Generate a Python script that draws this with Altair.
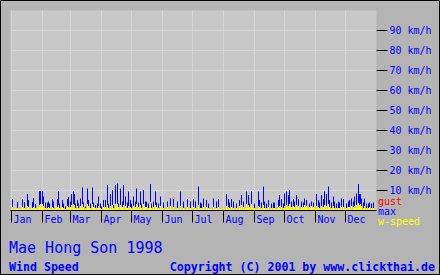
import altair as alt
import pandas as pd

months = ["Jan", "Feb", "Mar", "Apr", "May", "Jun", "Jul", "Aug", "Sep", "Oct", "Nov", "Dec"]
month_start_day = [0, 31, 59, 90, 120, 151, 181, 212, 243, 273, 304, 334]
y_ticks = [10, 20, 30, 40, 50, 60, 70, 80, 90]

# daily maximum wind speed (km/h)
max_jan = [0,5.5,0,0,0,0,4,0,0,0,0,5.5,0,4,0,0,8,5,0,0,0,4,6,0,3,0,0,0,9.5,9.5,0]
max_feb = [9.5,6.7,0,3.8,0,3.8,4.2,3.3,0,0,5.5,4.2,0,0,0,5.5,9.5,3.3,0,0,5,3.3,0,1.7,0,5.5,6.5,0]
max_mar = [4.2,8,0,9.5,8,3.3,0,5,3.3,0,5.8,0,11.3,3.8,0,1.7,0,10.8,5,0,3.3,0,11.3,3.8,0,2.5,0,3.3,6.7,0,3.3]
max_apr = [1.7,0,5,0,5,0,12.5,3.3,0,8,0,10,2.5,0,12.5,0,13.3,3.3,0,10.8,0,4.2,12.5,0,6.7,0,3.8,9.2,0,5]
max_may = [3.3,0,6.7,0,4.2,10.8,0,3.8,0,9.2,3.3,0,10,0,4.2,4.2,0,3.3,0,13,3.3,0,4.2,0,9.2,3.8,0,3.3,0,6.7,0]
max_jun = [0,3.8,0,0,0,4.2,0,0,5.8,0,0,5.5,0,0,0,4.2,0,0,9.2,0,0,4.2,0,0,0,5.5,0,0,4.2,0]
max_jul = [0,5.5,0,4.2,0,0,11.7,0,3.8,3.3,0,5.8,0,0,5,0,3.3,0,0,0,0,5.8,0,0,4.2,0,5.5,0,0,0,0]
max_aug = [0,0,0,8,0,5.5,3.8,0,5.5,0,4.2,0,0,3.3,0,0,5,0,7.5,0,4.2,0,0,9.2,0,7.5,3.3,0,9.5,0,0]
max_sep = [3.3,0,0,0,9.2,5,0,3.8,0,11.7,4.2,0,3.3,0,5,0,0,3.3,0,3.8,3.8,0,0,0,5,7.5,0,5.5,0,3.3]
max_oct = [8.3,0,9.2,0,7.5,10,0,4.2,0,5.5,4.2,0,7.5,0,5.5,0,0,4.2,0,3.8,5.8,0,5,0,0,3.3,0,4.2,0,3.8,0]
max_nov = [0,8,0,5,3.8,0,7.5,0,5.5,9.2,0,8,0,11.7,5,0,3.8,0,6.7,4.2,0,3.3,0,4.2,3.8,0,5.8,0,5.5,0]
max_dec = [0,3.3,0,4.2,5,0,5.8,0,4.2,6.7,0,8.3,0,13,8,8,5.8,0,3.8,5.8,0,3.3,0,3.3,3.8,0,3.3,0,3.8,0,0]

# daily mean wind speed (km/h)
ws_jan = [0.5,1.5,0.5,0.5,1,0.5,1,0.5,0.5,0.5,1,1.5,0.5,1,0.5,0.5,2,1.5,0.5,0.5,1,1,1.5,0.5,1,0.5,0.5,1,2.5,3,1.5]
ws_feb = [3,2,1,1,0.5,1,1.5,1,0.5,0.5,1.5,1,0.5,0.5,1,1.5,2.5,1,0.5,1,1.5,1,0.5,0.5,1,2,1.5,0.5]
ws_mar = [1.5,2.5,1,3,2.5,1,0.5,2,1,0.5,2,1,3,1.5,0.5,1,0.5,3,2,1,1,0.5,3,1.5,1,1,0.5,1,2,1,1]
ws_apr = [0.5,0.5,1.5,1,1.5,0.5,2.5,1,0.5,2,0.5,2.5,1,0.5,3,1,3,1.5,0.5,2.5,1,1.5,2.5,0.5,2,1,1,2,0.5,1.5]
ws_may = [1,0.5,2,1,1.5,3,1,1.5,0.5,2.5,1,0.5,3,1,1.5,1.5,0.5,1,1,4,1,0.5,1.5,0.5,2.5,1.5,0.5,1,0.5,2,1]
ws_jun = [0.5,1,0.5,0.5,0.5,1.5,0.5,0.5,2,0.5,0.5,1.5,0.5,0.5,0.5,1,0.5,0.5,2,0.5,0.5,1,0.5,0.5,0.5,1.5,0.5,0.5,1,0.5]
ws_jul = [0.5,1.5,0.5,1,0.5,0.5,2.5,0.5,1,1,0.5,1.5,0.5,0.5,1.5,0.5,1,0.5,0.5,0.5,0.5,1.5,0.5,0.5,1,0.5,1.5,0.5,0.5,0.5,0.5]
ws_aug = [0.5,0.5,0.5,2,0.5,1.5,1,0.5,1.5,0.5,1,0.5,0.5,1,0.5,0.5,2,1,2.5,0.5,1.5,0.5,1,3,1,2.5,1.5,1,3,1,0.5]
ws_sep = [1,0.5,0.5,0.5,2,1.5,0.5,1,0.5,2.5,1,0.5,1,0.5,1.5,0.5,0.5,1,0.5,1,1,0.5,0.5,0.5,1.5,2,0.5,1.5,0.5,1]
ws_oct = [2,1,2.5,1,2,3,1,1.5,0.5,2,1.5,0.5,2.5,1,2,0.5,0.5,1.5,1,1.5,2.5,1,2,1,0.5,1.5,1,2,1,1.5,1]
ws_nov = [0.5,2,0.5,1.5,1,0.5,2,0.5,1.5,2.5,0.5,2,0.5,3,1.5,0.5,1,0.5,2,1,0.5,1,0.5,1,1,0.5,1.5,0.5,1.5,0.5]
ws_dec = [0.5,1,0.5,1.5,1.5,0.5,2,0.5,1.5,2,1,2.5,1,3.5,2.5,3,2,0.5,1,2,0.5,1,0.5,1,1.5,0.5,1,0.5,1,0.5,0.5]

title_text = "Mae Hong Son 1998"
subtitle_text = "Wind Speed"
copyright_text = "Copyright (C) 2001 by www.clickthai.de"
legend_labels = ["gust", "max", "w-speed"]
legend_colors = ["#ff0000", "#0000ff", "#ffff00"]

max_all = (max_jan + max_feb + max_mar + max_apr + max_may + max_jun +
           max_jul + max_aug + max_sep + max_oct + max_nov + max_dec)
ws_all = (ws_jan + ws_feb + ws_mar + ws_apr + ws_may + ws_jun +
          ws_jul + ws_aug + ws_sep + ws_oct + ws_nov + ws_dec)
n = min(len(max_all), len(ws_all))
df = pd.DataFrame({
    "day": list(range(n)),
    "day_end": [d + 1 for d in range(n)],
    "max": max_all[:n],
    "wspeed": ws_all[:n],
})

FONT = "DejaVu Sans Mono"
BLUE = "#0000ff"
GRID = "#d6d6d6"

month_expr = "[" + ",".join("'%s'" % m for m in months) + "][indexof([" + \
    ",".join(str(d) for d in month_start_day) + "], datum.value)]"

x_scale = alt.Scale(domain=[-1, 365], nice=False, zero=False)
y_scale = alt.Scale(domain=[0, 100], nice=False)

x_axis = alt.Axis(
    values=month_start_day, labelExpr=month_expr, title=None,
    grid=True, gridColor=GRID, gridWidth=1,
    ticks=True, tickColor="#000000", tickSize=12, tickWidth=1,
    domain=True, domainColor="#000000", domainWidth=1,
    labelFont=FONT, labelFontSize=10, labelColor=BLUE,
    labelAlign="left", labelBaseline="middle", labelPadding=-3,
    labelOffset=2, labelFlush=False, labelOverlap=False, labelBound=False,
)
y_axis = alt.Axis(
    orient="right", values=y_ticks, labelExpr="datum.value + ' km/h'", title=None,
    grid=True, gridColor=GRID, gridWidth=1,
    ticks=True, tickColor="#000000", tickSize=11, tickWidth=1,
    domain=False, labelFont=FONT, labelFontSize=10, labelColor=BLUE,
    labelAlign="left", labelBaseline="middle", labelPadding=2,
)

base = alt.Chart(df)
max_bars = base.mark_rect(color=BLUE, strokeWidth=0).encode(
    x=alt.X("day:Q", scale=x_scale, axis=x_axis),
    x2="day_end:Q",
    y=alt.Y("max:Q", scale=y_scale, axis=y_axis),
    y2=alt.datum(0),
)
ws_bars = base.mark_rect(color="#ffff00", strokeWidth=0).encode(
    x=alt.X("day:Q", scale=x_scale, axis=x_axis),
    x2="day_end:Q",
    y=alt.Y("wspeed:Q", scale=y_scale, axis=y_axis),
    y2=alt.datum(0),
)

def text_layer(txt, x, y, color, size, weight="normal", align="left"):
    return alt.Chart(pd.DataFrame({"t": [txt]})).mark_text(
        font=FONT, fontSize=size, fontWeight=weight, color=color,
        align=align, baseline="alphabetic",
    ).encode(x=alt.value(x), y=alt.value(y), text="t:N")

texts = [
    text_layer(title_text, -1, 243, BLUE, 15),
    text_layer(subtitle_text, -1, 261, BLUE, 11.6, "bold"),
    text_layer(copyright_text, 425, 261, BLUE, 11.6, "bold", "right"),
    text_layer(legend_labels[0], 368, 194.5, legend_colors[0], 10),
    text_layer(legend_labels[1], 368, 204.5, legend_colors[1], 10),
    text_layer(legend_labels[2], 368, 214.5, legend_colors[2], 10),
]

border = alt.Chart(pd.DataFrame({"b": [0]})).mark_rect(
    fill="transparent", stroke="#000000", strokeWidth=1,
).encode(x=alt.value(-9.5), x2=alt.value(429.5), y=alt.value(-9.5), y2=alt.value(264.5))

chart = alt.layer(max_bars, ws_bars, *texts, border).properties(
    width=366, height=200, background="#b4b4b4",
    padding={"left": 10, "top": 10, "right": 64, "bottom": 65},
    autosize=alt.AutoSizeParams(type="none"),
).configure_view(fill="#c8c8c8", stroke="transparent")

chart.save("out.html", embed_options={"renderer": "svg", "actions": False})
